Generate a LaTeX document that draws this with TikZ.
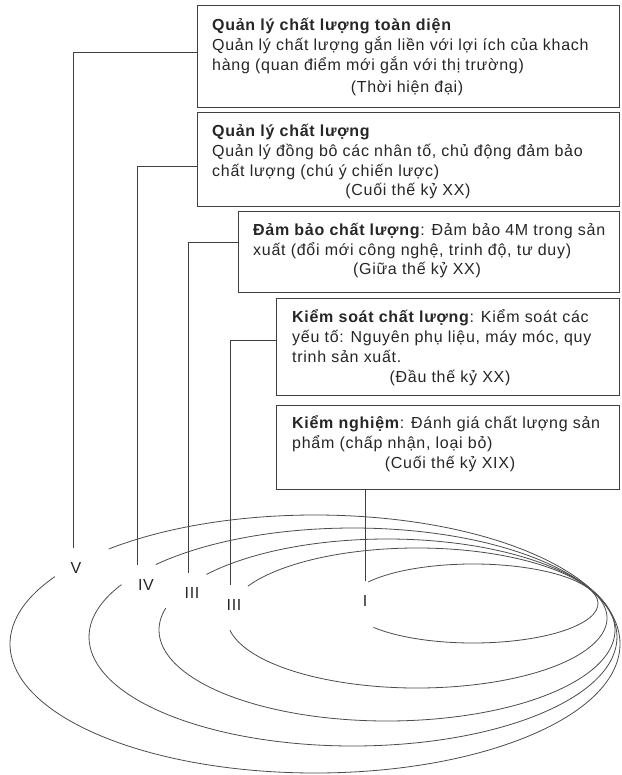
\documentclass[tikz,border=0pt]{standalone}
\usepackage{fontspec}
\setmainfont[LetterSpace=4.5]{Liberation Sans}
\begin{document}
\begin{tikzpicture}[x=1pt,y=-1pt,
  stage/.style={draw=black!75, line width=0.9pt, anchor=north west, inner sep=0pt},
  % multi-line texts are anchored at the baseline of their last line
  txt/.style={anchor=base west, align=left, inner sep=0pt, text=black!85,
              font=\fontsize{16}{20}\selectfont},
  era/.style={anchor=base, inner sep=0pt, text=black!85,
              font=\fontsize{16}{20}\selectfont},
  lab/.style={inner sep=0pt, minimum height=40pt, text=black!85,
              font=\fontsize{16}{20}\selectfont},
  conn/.style={draw=black!75, line width=0.8pt},
  ring/.style={draw=black!70, line width=0.8pt}
]
\fill[white] (0,0) rectangle (621,775);
\useasboundingbox (0,0) rectangle (621,775);

% stage boxes
\node[stage, minimum width=422pt, minimum height=102pt] (b1) at (197,5) {};
\node[stage, minimum width=422pt, minimum height=94pt]  (b2) at (197,112) {};
\node[stage, minimum width=381pt, minimum height=81pt]  (b3) at (238,211) {};
\node[stage, minimum width=343pt, minimum height=97pt]  (b4) at (276,298) {};
\node[stage, minimum width=343pt, minimum height=84pt]  (b5) at (276,405) {};

% box texts
\node[txt] (t1) at (212,71) {\textbf{Quản lý chất lượng toàn diện}\\
  Quản lý chất lượng gắn liền với lợi ích của khach\\
  hàng (quan điểm mới gắn với thị trường)};
\node[era] (d1) at (407,93) {(Thời hiện đại)};

\node[txt] (t2) at (212,177) {\textbf{Quản lý chất lượng}\\
  Quản lý đồng bô các nhân tố, chủ động đảm bảo\\
  chất lượng (chú ý chiến lược)};
\node[era] (d2) at (408,196) {(Cuối thế kỷ XX)};

\node[txt] (t3) at (253,255) {\textbf{Đảm bảo chất lượng}: Đảm bảo 4M trong sản\\
  xuất (đổi mới công nghệ, trinh độ, tư duy)};
\node[era] (d3) at (417,274) {(Giữa thế kỷ XX)};

\node[txt] (t4) at (292,362) {\textbf{Kiểm soát chất lượng}: Kiểm soát các\\
  yếu tố: Nguyên phụ liệu, máy móc, quy\\
  trinh sản xuất.};
\node[era] (d4) at (450,382) {(Đầu thế kỷ XX)};

\node[txt] (t5) at (292,448) {\textbf{Kiểm nghiệm}: Đánh giá chất lượng sản\\
  phẩm (chấp nhận, loại bỏ)};
\node[era] (d5) at (450,468) {(Cuối thế kỷ XIX)};

% level labels
\node[lab] (lV)    at (76,568)  {V};
\node[lab] (lIV)   at (146,585) {IV};
\node[lab] (lIIIa) at (192,593) {III};
\node[lab] (lIIIb) at (234,605) {III};
\node[lab] (lI)    at (365,601) {I};

% leaders from boxes to labels
\draw[conn] ([yshift=4pt]b1.west) -| ([xshift=-3pt]lV.north);
\draw[conn] ([yshift=-7pt]b2.west) -| ([xshift=-9pt]lIV.north);
\draw[conn] ([yshift=9.5pt]b3.west) -| ([xshift=-4pt]lIIIa.north);
\draw[conn] ([yshift=6.5pt]b4.west) -| ([xshift=-4pt]lIIIb.north);
\draw[conn] (lI.north |- b5.south) -- (lI.north);

% nested open ellipses
\draw[ring] (315,644) ++(-132.5:305 and 129)
  arc[start angle=-132.5, end angle=211.5, x radius=305, y radius=129];
\draw[ring] (353,637) ++(-138.3:264 and 109)
  arc[start angle=-138.3, end angle=208.7, x radius=264, y radius=109];
\draw[ring] (387,630) ++(-142.4:228 and 91)
  arc[start angle=-142.4, end angle=194, x radius=228, y radius=91];
\draw[ring] (417,618) ++(-152.9:190 and 70)
  arc[start angle=-152.9, end angle=170, x radius=190, y radius=70];
\draw[ring] (473,603.5) ++(-147:125 and 39.5)
  arc[start angle=-147, end angle=142.8, x radius=125, y radius=39.5];
\end{tikzpicture}
\end{document}
